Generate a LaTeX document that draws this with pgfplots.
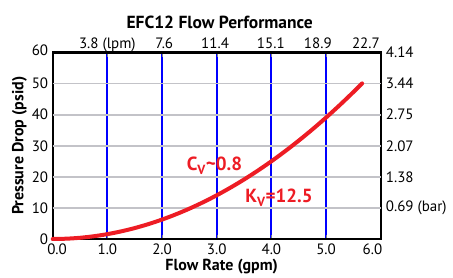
\documentclass[border=0pt]{standalone}
\usepackage{fontspec}
\setmainfont{PT Sans}
\usepackage{pgfplots}
\pgfplotsset{compat=1.18}
\definecolor{curvered}{RGB}{237,28,36}
\definecolor{gridgray}{RGB}{195,195,200}
\begin{document}
\begin{tikzpicture}
\begin{axis}[
  scale only axis,
  width=328pt, height=186.5pt,
  xmin=0, xmax=6, ymin=0, ymax=60,
  xtick={1,2,3,4,5},
  xticklabels={1.0,2.0,3.0,4.0,5.0},
  ytick={10,20,30,40,50},
  yticklabels={10,20,30,40,50},
  xmajorgrids=true,
  grid style={blue, line width=1.8pt},
  axis line style={line width=2.2pt, black},
  ticklabel style={font=\fontsize{15}{16}\selectfont},
  xticklabel style={yshift=-1pt},
  yticklabel style={xshift=-1pt},
  xlabel={\bfseries Flow Rate (gpm)},
  ylabel={\bfseries Pressure Drop (psid)},
  xlabel style={font=\fontsize{16}{17}\selectfont, yshift=2pt, xshift=5pt},
  ylabel style={font=\fontsize{16}{17}\selectfont, yshift=-2pt},
  title={\bfseries EFC12 Flow Performance},
  title style={font=\fontsize{17.5}{19}\selectfont, yshift=14pt, xshift=3pt},
  clip=false,
]
\draw[gridgray, line width=1.8pt] (axis cs:0,10) -- (axis cs:6,10);
\draw[gridgray, line width=1.8pt] (axis cs:0,20) -- (axis cs:6,20);
\draw[gridgray, line width=1.8pt] (axis cs:0,30) -- (axis cs:6,30);
\draw[gridgray, line width=1.8pt] (axis cs:0,40) -- (axis cs:6,40);
\draw[gridgray, line width=1.8pt] (axis cs:0,50) -- (axis cs:6,50);
\addplot[curvered, line width=4pt, line cap=round, smooth] coordinates {
(0,0) (0.25,0.0977) (0.5,0.3906) (0.75,0.8789) (1.0,1.5625) (1.25,2.4414)
(1.5,3.5156) (1.75,4.7852) (2.0,6.25) (2.25,7.9102) (2.5,9.7656) (2.75,11.8164)
(3.0,14.0625) (3.25,16.5039) (3.5,19.1406) (3.75,21.9727) (4.0,25.0)
(4.25,28.2227) (4.5,31.6406) (4.75,35.2539) (5.0,39.0625) (5.25,43.0664)
(5.5,47.2656) (5.66,50.06)
};
\node[font=\fontsize{15}{16}\selectfont, anchor=north, inner sep=0.333em, yshift=-1pt] at (axis cs:0.08,0) {0.0};
\node[font=\fontsize{15}{16}\selectfont, anchor=north, inner sep=0.333em, yshift=-1pt] at (axis cs:5.85,0) {6.0};
\node[font=\fontsize{15}{16}\selectfont, anchor=east, inner sep=0.333em, xshift=-1pt] at (axis cs:0,0) {0};
\node[font=\fontsize{15}{16}\selectfont, anchor=east, inner sep=0.333em, xshift=-1pt, yshift=2pt] at (axis cs:0,60) {60};
\begin{scope}[every node/.style={font=\fontsize{15}{16}\selectfont, anchor=base, inner sep=0pt}]
\node at (axis cs:1,60) [yshift=4pt] {3.8 (lpm)};
\node at (axis cs:2.04,60) [yshift=4pt] {7.6};
\node at (axis cs:2.97,60) [yshift=4pt] {11.4};
\node at (axis cs:3.99,60) [yshift=4pt] {15.1};
\node at (axis cs:4.85,60) [yshift=4pt] {18.9};
\node at (axis cs:5.73,60) [yshift=4pt] {22.7};
\end{scope}
\begin{scope}[every node/.style={font=\fontsize{15}{16}\selectfont, anchor=west, inner sep=0pt, xshift=5pt}]
\node at (axis cs:6,60) {4.14};
\node at (axis cs:6,50) {3.44};
\node at (axis cs:6,40) {2.75};
\node at (axis cs:6,30) {2.07};
\node at (axis cs:6,20) {1.38};
\node at (axis cs:6,10) {0.69 (bar)};
\end{scope}
\node[anchor=west, inner sep=0pt, text=curvered, font=\bfseries\fontsize{19}{20}\selectfont] at (axis cs:2.45,23.6) {C\textsubscript{V}\char`~0.8};
\node[anchor=west, inner sep=0pt, text=curvered, font=\bfseries\fontsize{19}{20}\selectfont] at (axis cs:3.52,13.3) {K\textsubscript{V}=12.5};
\end{axis}
\path (-52.7pt,-39pt) rectangle (400.3pt,239pt);
\end{tikzpicture}
\end{document}
